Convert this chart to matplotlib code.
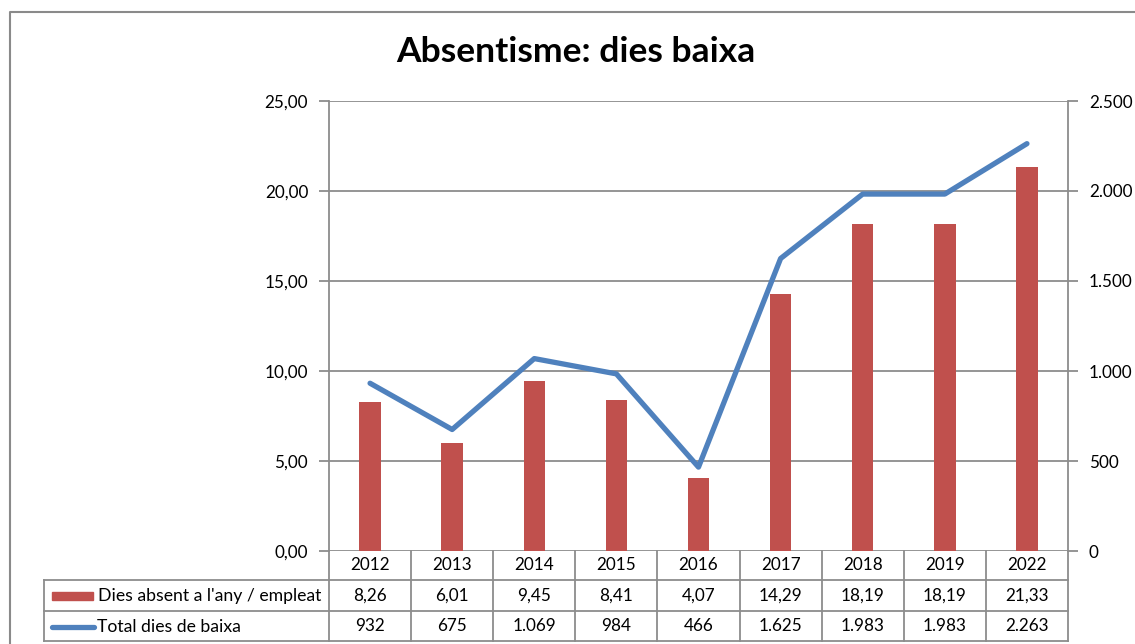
import matplotlib.pyplot as plt
from matplotlib.lines import Line2D
from matplotlib.patches import Rectangle
import matplotlib.transforms as mtransforms

years = ['2012', '2013', '2014', '2015', '2016', '2017', '2018', '2019', '2022']
dies_empleat = [8.26, 6.01, 9.45, 8.41, 4.07, 14.29, 18.19, 18.19, 21.33]
total_baixa = [932, 675, 1069, 984, 466, 1625, 1983, 1983, 2263]
lbl_empleat = ['8,26', '6,01', '9,45', '8,41', '4,07', '14,29', '18,19', '18,19', '21,33']
lbl_total = ['932', '675', '1.069', '984', '466', '1.625', '1.983', '1.983', '2.263']
left_ticks = [0, 5, 10, 15, 20, 25]
left_labels = ['0,00', '5,00', '10,00', '15,00', '20,00', '25,00']
right_ticks = [0, 500, 1000, 1500, 2000, 2500]
right_labels = ['0', '500', '1.000', '1.500', '2.000', '2.500']

RED = '#C0504D'
BLUE = '#4F81BD'
GRID = '#8c8c8c'
FS = 12.3
plt.rcParams['font.family'] = ['Lato', 'DejaVu Sans']

W, H = 1135, 644
fig = plt.figure(figsize=(W / 100, H / 100), dpi=100)
x0, x1, ytop, ybot = 329, 1068, 101, 551
ax = fig.add_axes([x0 / W, (H - ybot) / H, (x1 - x0) / W, (ybot - ytop) / H])
ax2 = ax.twinx()

xs = range(len(years))
ax.bar(xs, dies_empleat, width=0.26, color=RED, zorder=3)
ax2.plot(xs, total_baixa, color=BLUE, lw=3.8, solid_capstyle='round', zorder=4)

ax.set_xlim(-0.5, len(years) - 0.5)
ax.set_ylim(0, 25)
ax2.set_ylim(0, 2500)
ax.set_yticks(left_ticks)
ax.set_yticklabels(left_labels)
ax2.set_yticks(right_ticks)
ax2.set_yticklabels(right_labels)
ax.set_xticks([])
ax.yaxis.grid(True, color=GRID, lw=1.3, zorder=0)
ax.set_axisbelow(True)
for a in (ax, ax2):
    for s in a.spines.values():
        s.set_visible(False)
    a.tick_params(axis='y', length=7, width=1.3, color=GRID, labelsize=FS, pad=8)
ax.spines['left'].set_visible(True)
ax.spines['left'].set_color(GRID)
ax.spines['left'].set_linewidth(1.3)
ax2.spines['right'].set_visible(True)
ax2.spines['right'].set_color(GRID)
ax2.spines['right'].set_linewidth(1.3)

# data table below the plot
trans = mtransforms.blended_transform_factory(ax.transData, ax.transAxes)
ph = ybot - ytop
r0, r1, r2, r3 = 0, -29 / ph, -60 / ph, -90 / ph
legx0 = -0.5 - (x0 - 44) / (x1 - x0) * len(years)
kw = dict(transform=trans, color=GRID, lw=1.3, clip_on=False)
for i in range(len(years) + 1):
    ax.add_line(Line2D([i - 0.5, i - 0.5], [r0, r3], **kw))
ax.add_line(Line2D([legx0, legx0], [r1, r3], **kw))
for yy in (r1, r2, r3):
    ax.add_line(Line2D([legx0, len(years) - 0.5], [yy, yy], **kw))
for i, yr in enumerate(years):
    ax.text(i, (r0 + r1) / 2, yr, transform=trans, ha='center', va='center', fontsize=FS)
    ax.text(i, (r1 + r2) / 2, lbl_empleat[i], transform=trans, ha='center', va='center', fontsize=FS)
    ax.text(i, (r2 + r3) / 2, lbl_total[i], transform=trans, ha='center', va='center', fontsize=FS)

# legend keys in the table
fig.add_artist(Rectangle((52 / W, (H - 600) / H), 41 / W, 8 / H, color=RED, transform=fig.transFigure))
fig.text(98 / W, (H - 596) / H, "Dies absent a l'any / empleat", va='center', fontsize=FS + 0.4)
fig.add_artist(Line2D([52 / W, 94 / W], [(H - 627) / H] * 2, color=BLUE, lw=3.8,
                      solid_capstyle='round', transform=fig.transFigure))
fig.text(97 / W, (H - 627) / H, 'Total dies de baixa', va='center', fontsize=FS + 0.4)

# chart border (left and top visible)
fig.add_artist(Line2D([10 / W, 10 / W, 1.0], [0, (H - 12) / H, (H - 12) / H],
                      color='#8a8a8a', lw=1.5, transform=fig.transFigure))

fig.text(576 / W, (H - 52) / H, 'Absentisme: dies baixa', ha='center', va='center',
         fontsize=25.5, fontweight='bold')

fig.savefig('out.png', dpi=100)
